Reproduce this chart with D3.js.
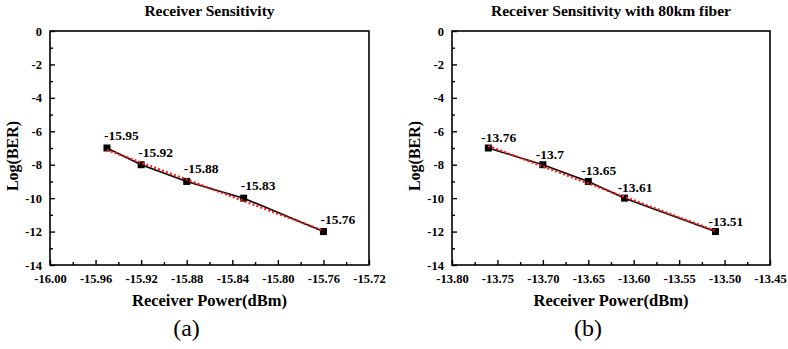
<!DOCTYPE html>
<html>
<head>
<meta charset="utf-8">
<script src="https://cdn.jsdelivr.net/npm/d3@7"></script>
<style>
  body { margin: 0; background: #fff; }
  svg text { font-family: "Liberation Serif", "Times New Roman", serif; }
</style>
</head>
<body>
<div id="chart"></div>
<script>
// values
const logBer = [-7, -8, -9, -10, -12];
const powerA = [-15.95, -15.92, -15.88, -15.83, -15.76];
const powerB = [-13.76, -13.70, -13.65, -13.61, -13.51];
const labelsA = ['-15.95', '-15.92', '-15.88', '-15.83', '-15.76'];
const labelsB = ['-13.76', '-13.7', '-13.65', '-13.61', '-13.51'];
// linear fit end points (red dotted)
const fitA = [[-15.95, -7.11], [-15.76, -11.95]];
const fitB = [[-13.76, -6.88], [-13.51, -11.96]];
const xTicksA = [-16.00, -15.96, -15.92, -15.88, -15.84, -15.80, -15.76, -15.72];
const xTicksB = [-13.80, -13.75, -13.70, -13.65, -13.60, -13.55, -13.50, -13.45];
const yTicks = [0, -2, -4, -6, -8, -10, -12, -14];

const width = 788, height = 349;
const svg = d3.select('#chart').append('svg')
  .attr('width', width)
  .attr('height', height);

const serif = '"Liberation Serif", "Times New Roman", serif';

function panel(opts) {
  const { left, right, top, bottom, xDomain, xTicks, xMinorStep, xs, labels, fit, title, tag, lab } = opts;
  const g = svg.append('g');
  const x = d3.scaleLinear().domain(xDomain).range([left, right]);
  const y = d3.scaleLinear().domain([-14, 0]).range([bottom, top]);

  // minor ticks
  const xMinor = d3.range(xDomain[0] + xMinorStep, xDomain[1], xMinorStep * 2);
  const yMinor = [-1, -3, -5, -7, -9, -11, -13];

  g.append('g')
    .attr('transform', `translate(0,${bottom})`)
    .call(d3.axisBottom(x).tickValues(xMinor).tickFormat('').tickSize(-3).tickSizeOuter(0))
    .call(s => s.select('.domain').remove())
    .selectAll('line').attr('stroke-width', 1.4);
  g.append('g')
    .attr('transform', `translate(${left},0)`)
    .call(d3.axisLeft(y).tickValues(yMinor).tickFormat('').tickSize(-3).tickSizeOuter(0))
    .call(s => s.select('.domain').remove())
    .selectAll('line').attr('stroke-width', 1.4);

  const xa = g.append('g')
    .attr('transform', `translate(0,${bottom})`)
    .call(d3.axisBottom(x).tickValues(xTicks).tickFormat(d => d.toFixed(2)).tickSize(-5).tickSizeOuter(0).tickPadding(9));
  xa.attr('font-family', serif);
  xa.select('.domain').remove();
  xa.selectAll('line').attr('stroke-width', 1.4);
  xa.selectAll('text')
    .attr('font-size', 12.5).attr('font-weight', 'bold').attr('fill', '#000');

  const ya = g.append('g')
    .attr('transform', `translate(${left},0)`)
    .call(d3.axisLeft(y).tickValues(yTicks).tickFormat(d => String(d)).tickSize(-5).tickSizeOuter(0).tickPadding(8));
  ya.attr('font-family', serif);
  ya.select('.domain').remove();
  ya.selectAll('line').attr('stroke-width', 1.4);
  ya.selectAll('text')
    .attr('font-size', 12.5).attr('font-weight', 'bold').attr('fill', '#000');

  // frame
  g.append('rect')
    .attr('x', left).attr('y', top)
    .attr('width', right - left).attr('height', bottom - top)
    .attr('fill', 'none').attr('stroke', '#000').attr('stroke-width', 1.6);

  const pts = xs.map((d, i) => ({ x: d, y: logBer[i], label: labels[i] }));

  const line = d3.line().x(d => x(d.x)).y(d => y(d.y));
  g.append('path')
    .datum(pts)
    .attr('d', line)
    .attr('fill', 'none')
    .attr('stroke', '#000')
    .attr('stroke-width', 1.6);

  g.selectAll('rect.pt')
    .data(pts)
    .enter()
    .append('rect')
    .attr('class', 'pt')
    .attr('x', d => x(d.x) - 3.5)
    .attr('y', d => y(d.y) - 3.5)
    .attr('width', 7)
    .attr('height', 7)
    .attr('fill', '#000');

  g.append('path')
    .datum(fit)
    .attr('d', d3.line().x(d => x(d[0])).y(d => y(d[1])))
    .attr('fill', 'none')
    .attr('stroke', '#ff1a1a')
    .attr('stroke-width', 2.4)
    .attr('stroke-dasharray', '2,2.2');

  g.selectAll('text.lbl')
    .data(pts)
    .enter()
    .append('text')
    .attr('class', 'lbl')
    .attr('x', d => x(d.x) + lab[0])
    .attr('y', d => y(d.y) + lab[1])
    .attr('font-size', 13.5)
    .attr('font-weight', 'bold')
    .text(d => d.label);

  const cx = (left + right) / 2;
  g.append('text')
    .attr('x', cx).attr('y', 16)
    .attr('text-anchor', 'middle')
    .attr('font-size', 15.5).attr('font-weight', 'bold')
    .text(title);
  g.append('text')
    .attr('x', cx).attr('y', 306)
    .attr('text-anchor', 'middle')
    .attr('font-size', 16.5).attr('font-weight', 'bold')
    .text('Receiver Power(dBm)');
  g.append('text')
    .attr('transform', `translate(${left - 32},${(top + bottom) / 2 + 8}) rotate(-90)`)
    .attr('text-anchor', 'middle')
    .attr('font-size', 16).attr('font-weight', 'bold')
    .text('Log(BER)');
  g.append('text')
    .attr('x', cx - 23).attr('y', 336)
    .attr('text-anchor', 'middle')
    .attr('font-size', 24)
    .text(tag);
}

panel({
  left: 50, right: 369, top: 31, bottom: 265,
  xDomain: [-16.00, -15.72], xTicks: xTicksA, xMinorStep: 0.02,
  xs: powerA, labels: labelsA, fit: fitA,
  title: 'Receiver Sensitivity', tag: '(a)', lab: [-3, -8]
});
panel({
  left: 452, right: 770, top: 31, bottom: 265,
  xDomain: [-13.80, -13.45], xTicks: xTicksB, xMinorStep: 0.025,
  xs: powerB, labels: labelsB, fit: fitB,
  title: 'Receiver Sensitivity with 80km fiber', tag: '(b)', lab: [-7, -6]
});
</script>
</body>
</html>
